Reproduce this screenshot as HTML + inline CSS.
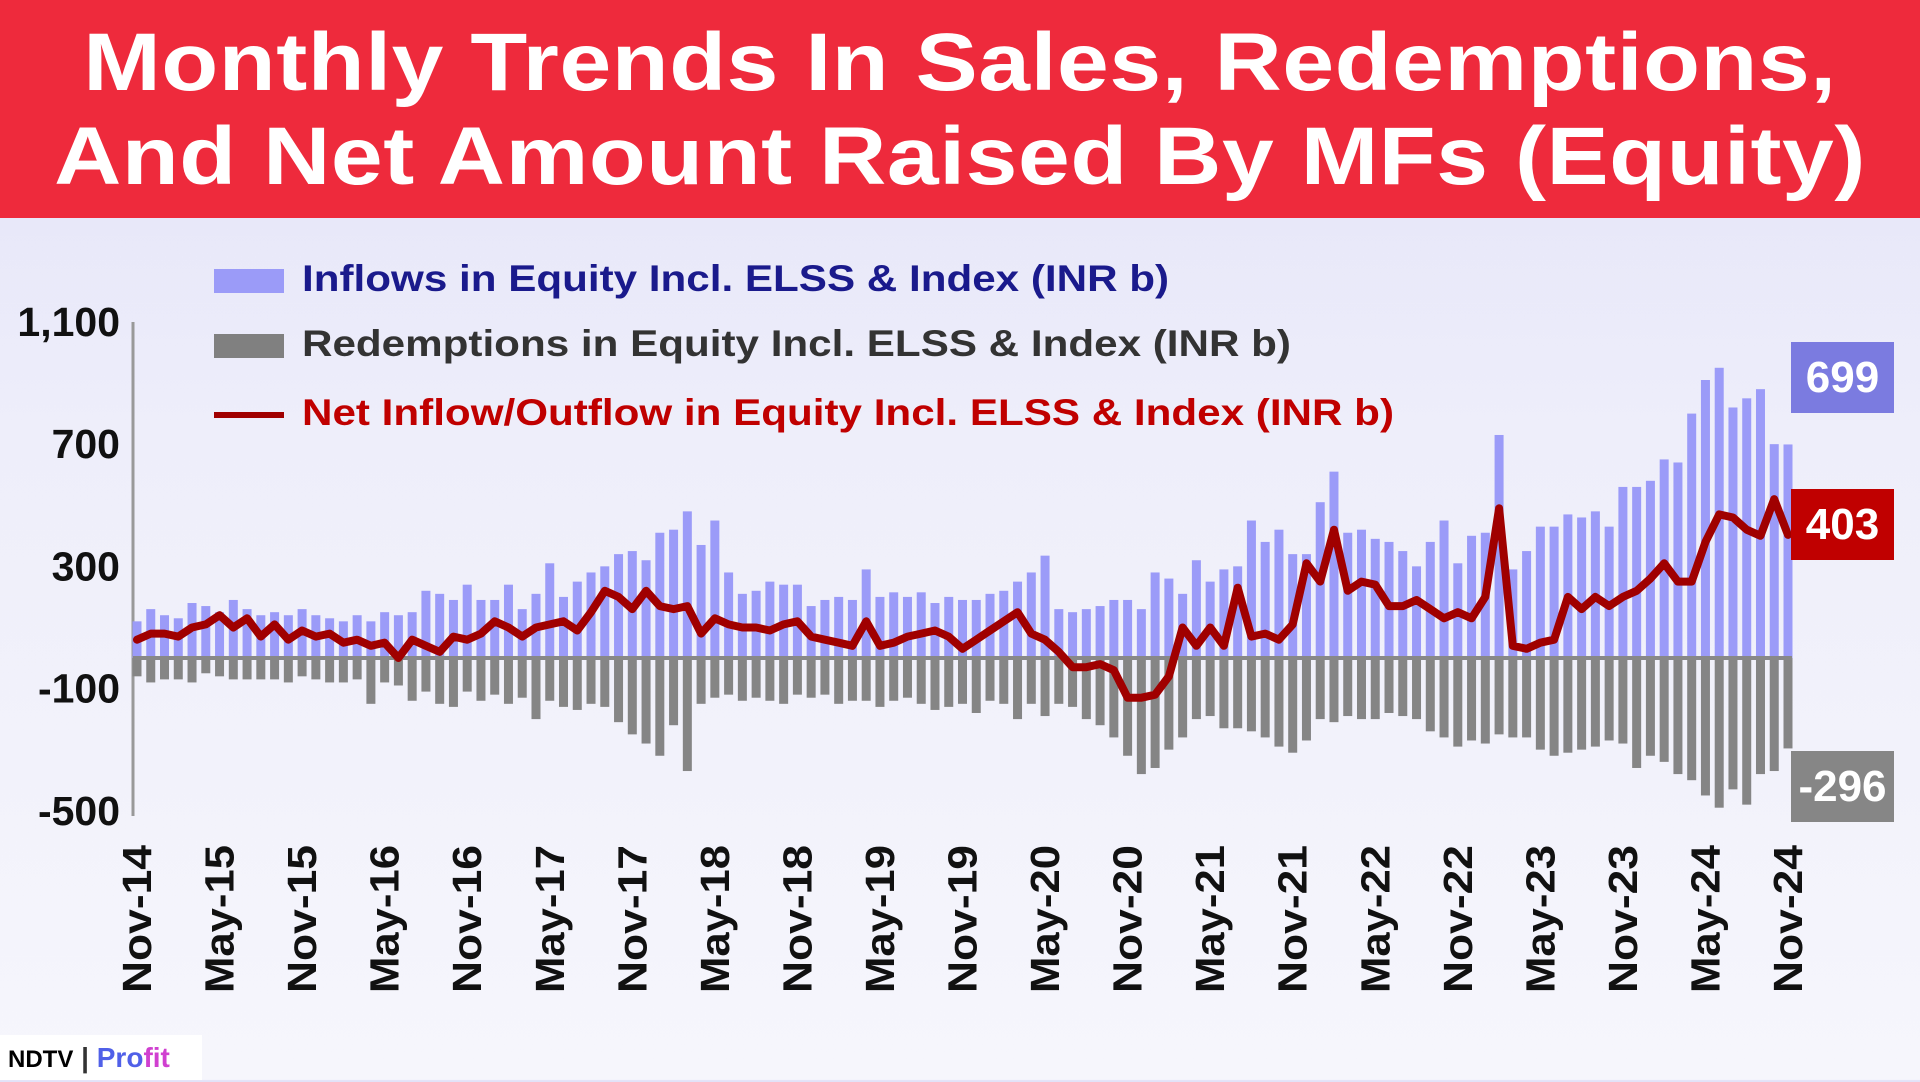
<!DOCTYPE html>
<html><head><meta charset="utf-8"><style>
body{margin:0;width:1920px;height:1080px;overflow:hidden;font-family:"Liberation Sans",sans-serif;background:linear-gradient(180deg,#e2e2f8 0%,#eeeefa 40%,#f6f6fc 100%);position:relative}
#hdr{position:absolute;left:0;top:0;width:1920px;height:218px;background:#ee2a3c;}
#hdr div{position:absolute;left:0;width:1920px;text-align:center;color:#fff;font-weight:bold;font-size:82px;line-height:94px;transform:scaleX(1.135);transform-origin:960px 0;letter-spacing:0.5px}
.lg{position:absolute;left:214px;font-size:37px;font-weight:bold;white-space:nowrap}
.lg b{display:inline-block;transform:scaleX(1.14);transform-origin:0 50%}
.sw{display:inline-block;width:70px;vertical-align:middle;margin-right:18px}
.box{position:absolute;left:1791px;width:103px;height:71px;color:#fff;font-weight:bold;font-size:44px;text-align:center;line-height:71px}
#logo{position:absolute;left:0;top:1035px;width:202px;height:45px;background:#fff;font-weight:bold;font-size:28px;line-height:45px;padding-left:8px;box-sizing:border-box}
</style></head><body>
<div id="hdr"><div style="top:16px">Monthly Trends In Sales, Redemptions,</div><div style="top:110px">And Net Amount Raised By MFs (Equity)</div></div>
<div class="lg" style="top:258px;color:#1a1a8c"><span class="sw" style="height:24px;background:#9b9bf8"></span><b>Inflows in Equity Incl. ELSS &amp; Index (INR b)</b></div>
<div class="lg" style="top:323px;color:#333"><span class="sw" style="height:24px;background:#808080"></span><b>Redemptions in Equity Incl. ELSS &amp; Index (INR b)</b></div>
<div class="lg" style="top:392px;color:#c00000"><span class="sw" style="height:6px;background:#a00000"></span><b>Net Inflow/Outflow in Equity Incl. ELSS &amp; Index (INR b)</b></div>
<svg id="chart" width="1920" height="1080" style="position:absolute;left:0;top:0"></svg>
<div class="box" style="top:342px;background:#7b7be0">699</div>
<div class="box" style="top:489px;background:#c00000">403</div>
<div class="box" style="top:751px;background:#868686">-296</div>
<div id="logo"><span style="color:#000;font-size:24px">NDTV</span><span style="color:#333"> | </span><span style="color:#5060e8">Pro</span><span style="color:#d040d0">fit</span></div>
<script>
const inflows=[120,160,
140,130,180,170,150,190,160,140,150,140,160,140,
130,120,140,120,150,140,150,220,210,190,240,190,
190,240,160,210,310,200,250,280,300,340,350,320,
410,420,480,370,450,280,210,220,250,240,240,170,
190,200,190,290,200,215,200,215,180,200,190,190,
210,220,250,280,335,160,150,160,170,190,190,160,
280,260,210,320,250,290,300,450,380,420,340,340,
510,610,410,420,390,380,350,300,380,450,310,400,
410,730,290,350,430,430,470,460,480,430,560,560,
580,650,640,800,910,950,820,850,880,700,699];
const redemptions=[-60,-80,
-70,-70,-80,-50,-60,-70,-70,-70,-70,-80,-60,-70,
-80,-80,-70,-150,-80,-90,-140,-110,-150,-160,-110,-140,
-120,-150,-130,-200,-140,-160,-170,-150,-160,-210,-250,-280,
-320,-220,-370,-150,-130,-120,-140,-130,-140,-150,-120,-130,
-120,-150,-140,-140,-160,-140,-130,-150,-170,-160,-150,-180,
-140,-150,-200,-150,-190,-150,-160,-200,-220,-260,-320,-380,
-360,-300,-260,-200,-190,-230,-230,-240,-260,-290,-310,-270,
-200,-210,-190,-200,-200,-180,-190,-200,-240,-260,-290,-270,
-280,-250,-260,-260,-300,-320,-310,-300,-290,-270,-280,-360,
-320,-340,-380,-400,-450,-490,-430,-480,-380,-370,-296];
const net=[60,80,
80,70,100,110,140,100,130,70,110,60,90,70,
80,50,60,40,50,0,60,40,20,70,60,80,
120,100,70,100,110,120,90,150,220,200,160,220,
170,160,170,80,130,110,100,100,90,110,120,70,
60,50,40,120,40,50,70,80,90,70,30,60,
90,120,150,80,60,20,-30,-30,-20,-40,-130,-130,
-120,-60,100,40,100,40,230,70,80,60,110,310,
250,420,220,250,240,170,170,190,160,130,150,130,
200,490,40,30,50,60,200,160,200,170,200,220,
260,310,250,250,380,470,460,420,400,520,403];
const yTicks=[1100,700,300,-100,-500];
const yTickLabels=["1,100","700","300","-100","-500"];
const xLabels=["Nov-14","May-15","Nov-15","May-16","Nov-16","May-17","Nov-17","May-18","Nov-18","May-19","Nov-19","May-20","Nov-20","May-21","Nov-21","May-22","Nov-22","May-23","Nov-23","May-24","Nov-24"];
const NS="http://www.w3.org/2000/svg";
const svg=document.getElementById('chart');
const X=i=>137+i*(1788-137)/(inflows.length-1);
const Y=v=>658-v*0.3055;
function mk(t,a){const e=document.createElementNS(NS,t);for(const k in a)e.setAttribute(k,a[k]);svg.appendChild(e);return e;}
const ax=mk('line',{x1:133,y1:322,x2:133,y2:816,stroke:'#999','stroke-width':3});


yTicks.forEach((v,i)=>{const t=mk('text',{x:120,y:Y(v)+14,'text-anchor':'end','font-size':41,'font-weight':'bold',fill:'#111'});t.textContent=yTickLabels[i];

});
inflows.forEach((v,i)=>{const r=mk('rect',{x:X(i)-4.5,y:Y(v),width:9,height:Y(0)-Y(v),fill:'#9b9bf8'});

});
redemptions.forEach((v,i)=>{const r=mk('rect',{x:X(i)-4.5,y:Y(0),width:9,height:Y(v)-Y(0),fill:'#858585'});

});
const zl=mk('line',{x1:133,y1:Y(0),x2:1792,y2:Y(0),stroke:'#888','stroke-width':4});


const p=mk('path',{d:net.map((v,i)=>(i?'L':'M')+X(i).toFixed(1)+' '+Y(v).toFixed(1)).join(' '),fill:'none',stroke:'#a00000','stroke-width':8,'stroke-linejoin':'round','stroke-linecap':'round'});


xLabels.forEach((l,k)=>{const x=X(k*6)+14;const t=mk('text',{x:x,y:845,'text-anchor':'end','font-size':41,'font-weight':'bold',fill:'#111',transform:`rotate(-90 ${x} 845)`,textLength:148,lengthAdjust:'spacingAndGlyphs'});t.textContent=l;

});
</script>
</body></html>
